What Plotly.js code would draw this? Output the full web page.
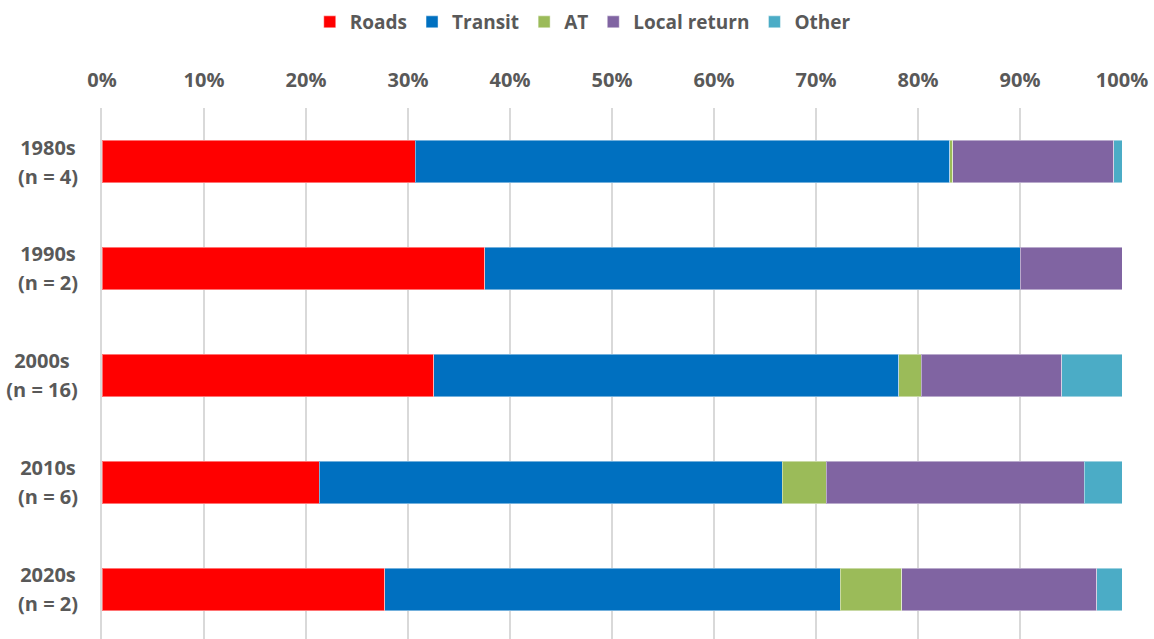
<!DOCTYPE html>
<html>
<head>
<meta charset="utf-8">
<script src="https://cdn.plot.ly/plotly-3.0.1.min.js"></script>
<style>html,body{margin:0;padding:0;background:#fff;}#chart{width:1154px;height:639px;}</style>
</head>
<body>
<div id="chart"></div>
<script>
const categories = ["1980s<br>(n = 4)", "1990s<br>(n = 2)", "2000s<br>(n = 16)", "2010s<br>(n = 6)", "2020s<br>(n = 2)"];
const roads       = [30.7, 37.5, 32.5, 21.3, 27.7];
const transit     = [52.4, 52.5, 45.6, 45.4, 44.7];
const at          = [0.3, 0, 2.2, 4.3, 6.0];
const localReturn = [15.8, 10.0, 13.8, 25.3, 19.1];
const other       = [0.8, 0, 5.9, 3.7, 2.5];
const seriesNames = ["Roads", "Transit", "AT", "Local return", "Other"];
const xTickVals = [0, 10, 20, 30, 40, 50, 60, 70, 80, 90, 100];

const colors = ["#FF0000", "#0070C0", "#9BBB59", "#8064A2", "#4BACC6"];
const data = [roads, transit, at, localReturn, other].map((vals, i) => ({
  type: "bar",
  orientation: "h",
  name: seriesNames[i],
  y: categories,
  x: vals,
  marker: {color: colors[i], line: {color: "rgba(255,255,255,0.45)", width: 1}},
  hoverinfo: "x+name"
}));

const fam = "'Open Sans', 'Noto Sans', sans-serif";
const gray = "#595959";
const labelFont = {family: fam, size: 20, color: gray, weight: "bold"};

// measure text widths so each two-line label is centred in a right-aligned block
const ctx = document.createElement("canvas").getContext("2d");
ctx.font = "bold 20px 'Open Sans', 'Noto Sans', sans-serif";

const annotations = [];
categories.forEach(c => {
  const parts = c.split("<br>");
  const w = Math.ceil(Math.max(...parts.map(p => ctx.measureText(p).width))) + 2;
  [[parts[0], 14.5], [parts[1], -14.5]].forEach(([t, shift]) => {
    annotations.push({
      xref: "paper", yref: "y", x: -0.0216, y: c,
      text: t, showarrow: false, xanchor: "right", yanchor: "middle",
      width: w, align: "center", borderpad: 0,
      yshift: shift, font: labelFont
    });
  });
});

const layout = {
  width: 1154, height: 639,
  paper_bgcolor: "#fff", plot_bgcolor: "#fff",
  barmode: "stack",
  bargap: 0.6,
  margin: {l: 102, r: 32, t: 108, b: 0},
  font: {family: fam, size: 20, color: gray},
  showlegend: true,
  legend: {
    orientation: "h", x: 0.505, xref: "container", xanchor: "center",
    y: 1 - 22/639, yref: "container", yanchor: "middle",
    font: {family: fam, size: 19, color: gray, weight: "bold"},
    itemwidth: 20, traceorder: "normal", tracegroupgap: 0
  },
  annotations: annotations,
  xaxis: {
    side: "top", range: [0, 100], tickvals: xTickVals,
    ticktext: xTickVals.map(v => v + "%"),
    showgrid: true, gridcolor: "#D9D9D9", gridwidth: 2,
    zeroline: false, showline: false, ticks: "",
    ticklabelstandoff: 16,
    tickfont: labelFont,
    fixedrange: true
  },
  yaxis: {
    type: "category",
    range: [4.463, -0.5],
    showline: true, linecolor: "#D9D9D9", linewidth: 2,
    showgrid: false, ticks: "", showticklabels: false,
    fixedrange: true
  }
};

Plotly.newPlot("chart", data, layout, {displayModeBar: false, staticPlot: true});
</script>
</body>
</html>
